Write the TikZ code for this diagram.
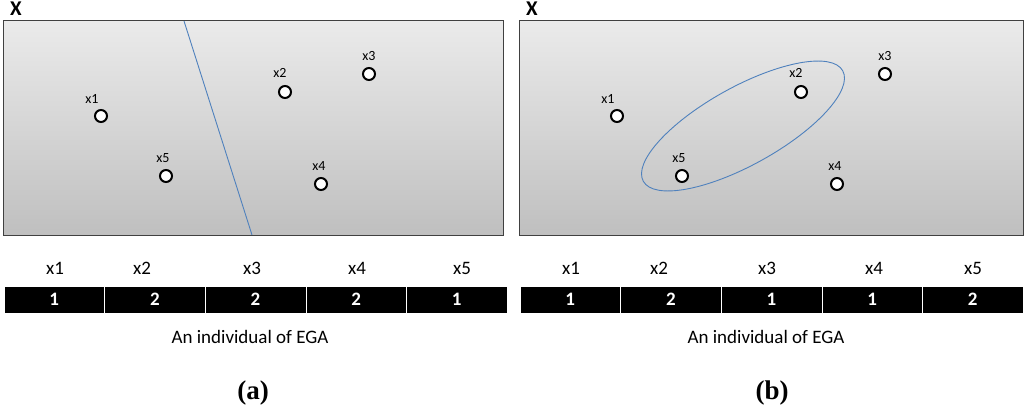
\documentclass[tikz,border=0pt]{standalone}
\usepackage{fontspec}
\setmainfont{Carlito}
\newfontfamily\capfont{Liberation Serif}
\usetikzlibrary{shapes.geometric}
\definecolor{linkblue}{RGB}{79,129,189}
\tikzset{
  panel/.style={draw=black!75, line width=1pt, top color=black!8, bottom color=black!25},
  pt/.style={circle, draw=black, line width=2pt, fill=white, minimum size=12pt, inner sep=0pt},
  ptlabel/.style={font=\fontsize{14}{15}\selectfont, inner sep=0pt},
  cell/.style={fill=black, draw=white, line width=0.6pt, minimum width=100.6pt, minimum height=27pt, inner sep=0pt, text=white, font=\bfseries\fontsize{19}{21}\selectfont},
  gene/.style={font=\fontsize{19}{21}\selectfont, inner sep=0pt},
  sepline/.style={draw=linkblue, line width=0.9pt},
  caption/.style={font=\capfont\bfseries\fontsize{27}{29}\selectfont, inner sep=0pt},
  xlab/.style={font=\bfseries\fontsize{21}{23}\selectfont, inner sep=0pt}
}
\begin{document}
\begin{tikzpicture}[x=1pt,y=-1pt]
\useasboundingbox (0,0) rectangle (1024,409);
% panel (a)
\node[xlab] (Xa) at (16,9) {X};
\draw[panel] (3,21) rectangle (503,235);
\coordinate (la) at (184,21);
\coordinate (lb) at (252,235);
\draw[sepline] (la) -- (lb);
\node[pt] (a1) at (101,116) {};
\node[pt] (a5) at (166,176) {};
\node[pt] (a2) at (285,92) {};
\node[pt] (a3) at (369,74) {};
\node[pt] (a4) at (321,184) {};
\node[ptlabel] (la1) at (92,99) {x1};
\node[ptlabel] (la5) at (163,158) {x5};
\node[ptlabel] (la2) at (280,73) {x2};
\node[ptlabel] (la3) at (369,56) {x3};
\node[ptlabel] (la4) at (319,166) {x4};
% panel (b)
\node[xlab] (Xb) at (532,9) {X};
\draw[panel] (519,21) rectangle (1023,235);
\node[pt] (b1) at (617,116) {};
\node[pt] (b5) at (682,176) {};
\node[pt] (b2) at (801,92) {};
\node[pt] (b3) at (885,74) {};
\node[pt] (b4) at (837,184) {};
\node[ptlabel] (lb1) at (608,99) {x1};
\node[ptlabel] (lb5) at (679,158) {x5};
\node[ptlabel] (lb2) at (796,73) {x2};
\node[ptlabel] (lb3) at (885,56) {x3};
\node[ptlabel] (lb4) at (835,166) {x4};
\node[draw=linkblue, line width=0.9pt, ellipse, minimum width=228pt, minimum height=78pt, inner sep=0pt, rotate=29] (ell) at (743,126) {};
% chromosome (a)
\foreach \v [count=\i] in {1,2,2,2,1} {
  \node[cell] (ca\i) at ({4+50.3+100.6*(\i-1)},299.5) {\v};
}
\foreach \x [count=\i] in {55,142,252,357,462} {
  \node[gene] (ga\i) at (\x,268) {x\i};
}
\node[gene] (inda) at (250,337) {An individual of EGA};
% chromosome (b)
\foreach \v [count=\i] in {1,2,1,1,2} {
  \node[cell] (cb\i) at ({520+50.3+100.6*(\i-1)},299.5) {\v};
}
\foreach \x [count=\i] in {571,659,767,874,973} {
  \node[gene] (gb\i) at (\x,268) {x\i};
}
\node[gene] (indb) at (766,337) {An individual of EGA};
% captions
\node[caption] (capa) at (253,393) {(a)};
\node[caption] (capb) at (772,393) {(b)};
\end{tikzpicture}
\end{document}
